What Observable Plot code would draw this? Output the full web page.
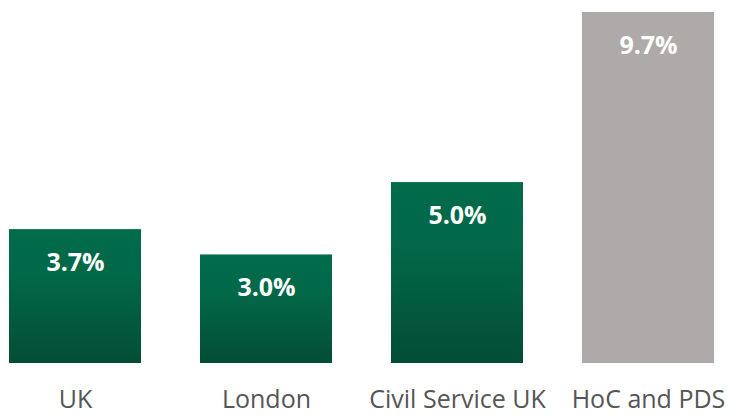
<!DOCTYPE html>
<html>
<head>
<meta charset="utf-8">
<script src="https://cdn.jsdelivr.net/npm/d3@7"></script>
<script src="https://cdn.jsdelivr.net/npm/@observablehq/plot@0.6"></script>
<style>
  html, body { margin: 0; padding: 0; background: #fff; }
  #chart { width: 733px; height: 415px; }
</style>
</head>
<body>
<div id="chart"></div>
<script>
const categories = ["UK", "London", "Civil Service UK", "HoC and PDS"];
const values = [3.7, 3.0, 5.0, 9.7];
const valueLabels = ["3.7%", "3.0%", "5.0%", "9.7%"];
const fills = ["url(#greenGrad)", "url(#greenGrad)", "url(#greenGrad)", "#aeaaa9"];

const data = categories.map((c, i) => ({cat: c, value: values[i], label: valueLabels[i], fill: fills[i]}));

const chart = Plot.plot({
  width: 733,
  height: 415,
  marginLeft: 9,
  marginRight: 19,
  marginTop: 12,
  marginBottom: 52,
  style: {fontFamily: "'Open Sans', sans-serif", background: "#fff"},
  x: {domain: categories, paddingInner: 0.31, paddingOuter: 0, label: null},
  y: {domain: [0, 9.7], axis: null},
  marks: [
    Plot.barY(data, {x: "cat", y: "value", fill: d => d.fill}),
    Plot.text(data, {x: "cat", y: "value", text: "label", dy: 33, fill: "#fff", fontSize: 25, fontWeight: "bold", lineAnchor: "middle"}),
    Plot.axisX({tickSize: 0, tickPadding: 27, fontSize: 25, fill: "#555", label: null})
  ]
});

const svg = d3.select(chart);
const defs = svg.insert("defs", ":first-child");
const g = defs.append("linearGradient").attr("id", "greenGrad").attr("x1", 0).attr("y1", 0).attr("x2", 0).attr("y2", 1);
g.append("stop").attr("offset", "0").attr("stop-color", "#016b4a");
g.append("stop").attr("offset", "0.35").attr("stop-color", "#016848");
g.append("stop").attr("offset", "1").attr("stop-color", "#034d35");

document.getElementById("chart").appendChild(chart);
</script>
</body>
</html>
